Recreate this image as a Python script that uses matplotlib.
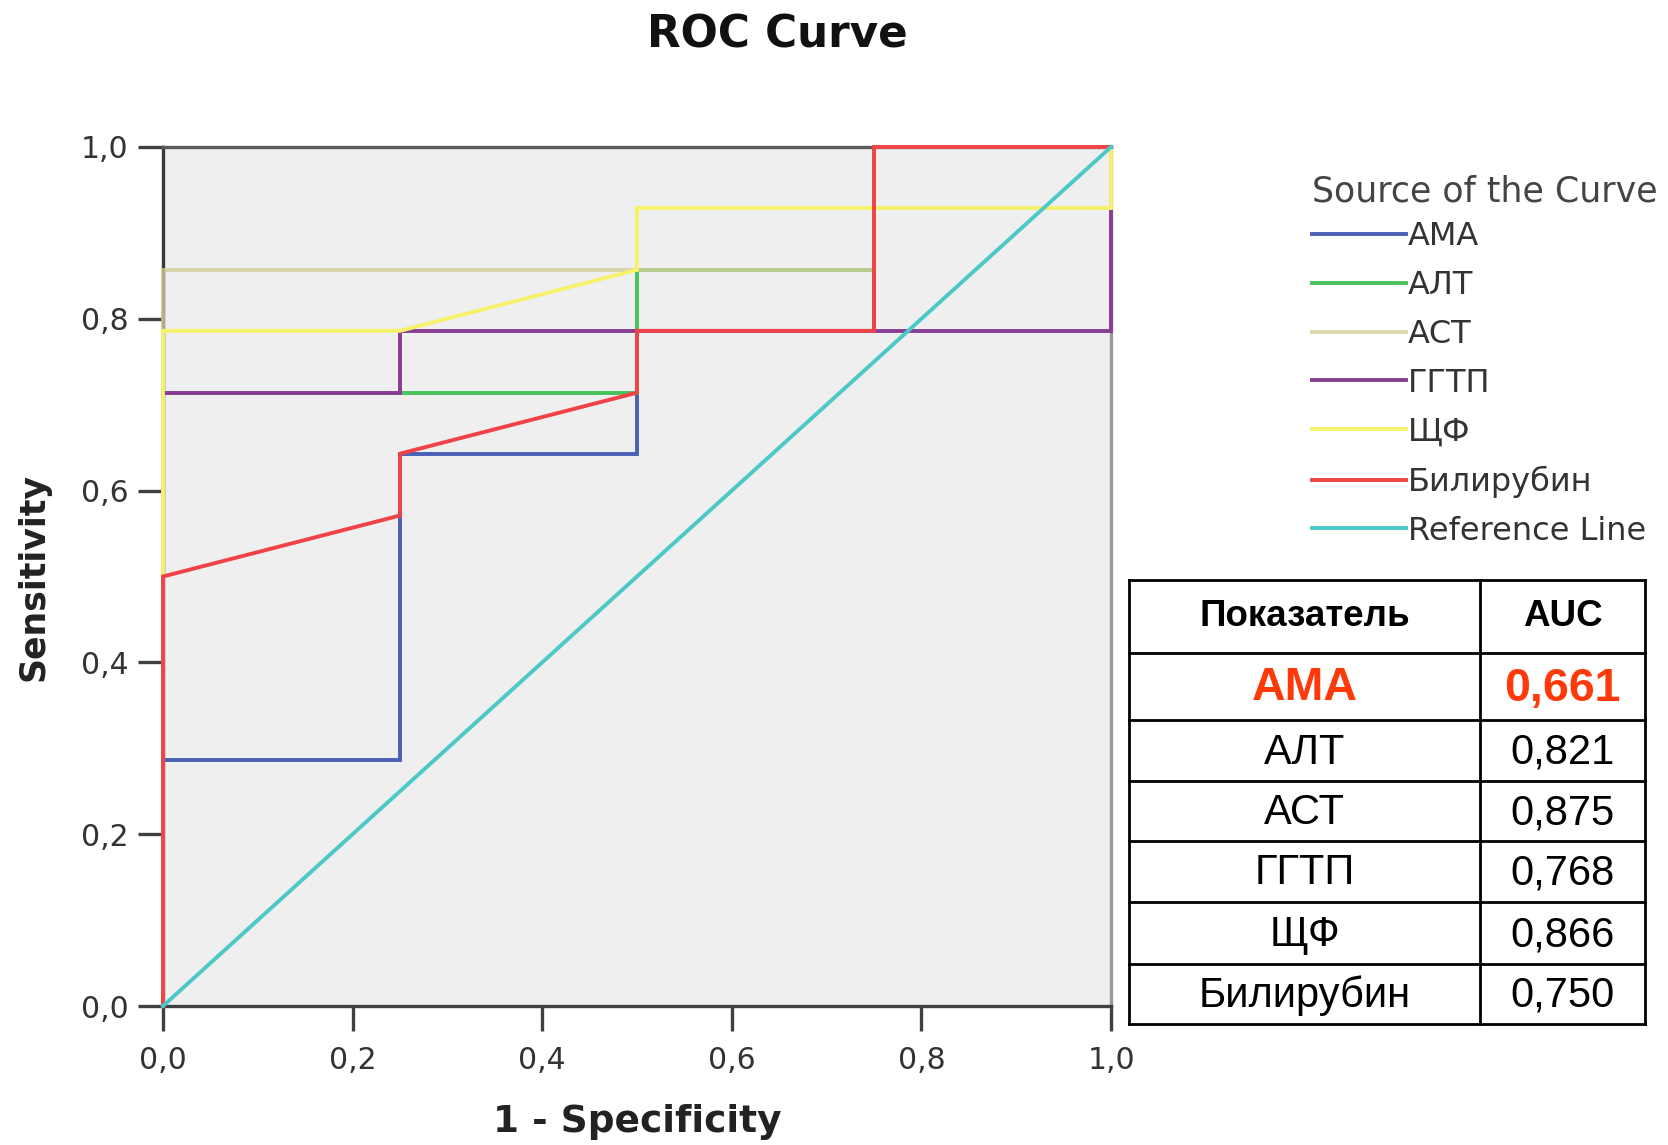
import matplotlib

matplotlib.use("Agg")
import matplotlib.pyplot as plt

# ROC curve points (1 - specificity, sensitivity) per marker
curve_names = ["АМА", "АЛТ", "АСТ", "ГГТП", "ЩФ", "Билирубин"]
ama_x = [0, 0, 0.25, 0.25, 0.5, 0.5, 0.75, 0.75, 1, 1]
ama_y = [0, 0.286, 0.286, 0.643, 0.643, 0.786, 0.786, 0.929, 0.929, 1]
alt_x = [0, 0, 0.5, 0.5, 0.75, 0.75, 1]
alt_y = [0, 0.714, 0.714, 0.857, 0.857, 1, 1]
ast_x = [0, 0, 0.75, 0.75, 1, 1]
ast_y = [0, 0.857, 0.857, 0.929, 0.929, 1]
ggtp_x = [0, 0, 0.25, 0.25, 1, 1]
ggtp_y = [0, 0.714, 0.714, 0.786, 0.786, 1]
shf_x = [0, 0, 0.25, 0.5, 0.5, 1, 1]
shf_y = [0, 0.786, 0.786, 0.857, 0.929, 0.929, 1]
bil_x = [0, 0, 0.25, 0.25, 0.5, 0.5, 0.75, 0.75, 1]
bil_y = [0, 0.5, 0.571, 0.643, 0.714, 0.786, 0.786, 1, 1]
ref_x = [0, 1]
ref_y = [0, 1]

# AUC table
table_header = ["Показатель", "AUC"]
table_markers = ["АМА", "АЛТ", "АСТ", "ГГТП", "ЩФ", "Билирубин"]
table_auc = [0.661, 0.821, 0.875, 0.768, 0.866, 0.750]

ticks = [0.0, 0.2, 0.4, 0.6, 0.8, 1.0]

COLORS = ["#4a5fb8", "#47c25a", "#d3cf9a", "#873d92", "#f6f26c", "#ef4347"]
REF_COLOR = "#4cc8c8"
W, H = 1668, 1145


def comma(v: float, nd: int) -> str:
    return f"{v:.{nd}f}".replace(".", ",")


fig = plt.figure(figsize=(W / 100, H / 100), dpi=100)
ax = fig.add_axes([163 / W, 1 - 1006 / H, (1111 - 163) / W, (1006 - 147) / H])
ax.set_facecolor("#efefef")

series = [(ama_x, ama_y), (alt_x, alt_y), (ast_x, ast_y),
          (ggtp_x, ggtp_y), (shf_x, shf_y), (bil_x, bil_y)]
handles = []
for (xs, ys), color, name in zip(series, COLORS, curve_names):
    alpha = 0.8 if name == "АСТ" else 1.0
    (ln,) = ax.plot(xs, ys, color=color, lw=2.8, alpha=alpha, clip_on=False, zorder=3,
                    solid_joinstyle="miter")
    handles.append(ln)
(ref,) = ax.plot(ref_x, ref_y, color=REF_COLOR, lw=2.8, clip_on=False, zorder=4)
handles.append(ref)

ax.set_xlim(0, 1)
ax.set_ylim(0, 1)
ax.set_xticks(ticks)
ax.set_yticks(ticks)
ax.set_xticklabels([comma(t, 1) for t in ticks])
ax.set_yticklabels([comma(t, 1) for t in ticks])
ax.tick_params(direction="out", length=18, width=2.4, color="#404040",
               labelsize=21.5, labelcolor="#333333")
ax.tick_params(axis="x", pad=11)
ax.tick_params(axis="y", pad=7)
for side, col in (("left", "#3a3a3a"), ("bottom", "#404040"), ("top", "#5a5a5a"), ("right", "#9a9a9a")):
    ax.spines[side].set_color(col)
    ax.spines[side].set_linewidth(2.4)

fig.text(777 / W, 1 - 35 / H, "ROC Curve", ha="center", va="center",
         fontsize=31.5, weight="bold", color="#111111")
fig.text(34 / W, 1 - 577 / H, "Sensitivity", rotation=90, ha="center", va="center",
         fontsize=25, weight="bold", color="#222222")
fig.text(637 / W, 1 - 1122 / H, "1 - Specificity", ha="center", va="center",
         fontsize=27, weight="bold", color="#222222")

# legend title set apart so its gap to the first entry can differ from the entry spacing
fig.text(1312 / W, 1 - 191 / H, "Source of the Curve", ha="left", va="center",
         fontsize=25, color="#444444")
fig.legend(handles, curve_names + ["Reference Line"], loc="upper left",
           bbox_to_anchor=(1312 / W, 1 - 221 / H), frameon=False,
           fontsize=23, handlelength=2.95, handletextpad=0.05,
           labelspacing=0.56, borderaxespad=0, borderpad=0, labelcolor="#333333")

# AUC table drawn in pixel coordinates
tax = fig.add_axes([1129 / W, 1 - 1024 / H, (1645 - 1129) / W, (1024 - 580) / H])
tax.set_xlim(1129, 1645)
tax.set_ylim(1024, 580)
tax.axis("off")
row_edges = [580, 653, 720, 781, 841, 902, 964, 1024]
col_edges = [1129, 1480, 1645]
for y in row_edges:
    tax.plot([col_edges[0], col_edges[-1]], [y, y], color="black", lw=2, clip_on=False,
             solid_capstyle="projecting")
for x in col_edges:
    tax.plot([x, x], [row_edges[0], row_edges[-1]], color="black", lw=2, clip_on=False,
             solid_capstyle="projecting")
c1 = (col_edges[0] + col_edges[1]) / 2
c2 = (col_edges[1] + col_edges[2]) / 2
tfont = ["Liberation Sans", "DejaVu Sans"]
hy = (row_edges[0] + row_edges[1]) / 2
tax.text(c1, hy, table_header[0], ha="center", va="center", fontsize=26.5, weight="bold", family=tfont)
tax.text(c2, hy, table_header[1], ha="center", va="center", fontsize=26.5, weight="bold", family=tfont)
for i, (m, v) in enumerate(zip(table_markers, table_auc)):
    y = (row_edges[i + 1] + row_edges[i + 2]) / 2 + 2
    if i == 0:
        kw = dict(fontsize=33.5, weight="bold", color="#ff3a0a")
    else:
        kw = dict(fontsize=30, color="black")
    tax.text(c1, y, m, ha="center", va="center", family=tfont, **kw)
    tax.text(c2, y, comma(v, 3), ha="center", va="center", family=tfont, **kw)

fig.savefig("out.png", dpi=100, facecolor="white")
